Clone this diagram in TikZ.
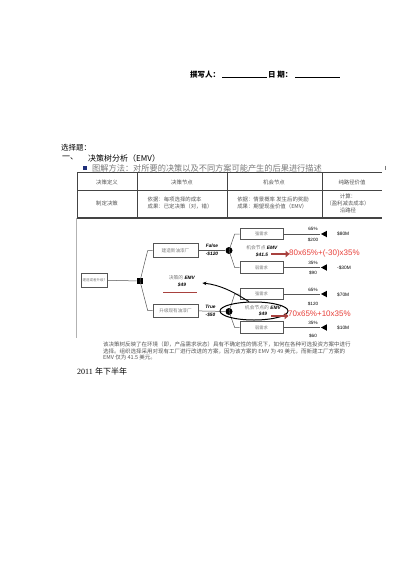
\documentclass[tikz,border=0pt]{standalone}
\usepackage{fontspec}
\setmainfont{Liberation Sans}
\newfontfamily\cjk{Noto Sans CJK SC}
\newfontfamily\tms{Liberation Serif}
\usetikzlibrary{shapes.geometric,arrows.meta,positioning}
\newcommand{\fsz}[2]{\fontsize{#1}{#2}\selectfont}
\definecolor{boxgray}{HTML}{555555}
\definecolor{txtgray}{HTML}{7A7A7A}
\definecolor{rulegray}{HTML}{444444}
\definecolor{formred}{HTML}{E8403A}
\definecolor{arrred}{HTML}{A8413E}
\definecolor{bulletblue}{HTML}{1F2F7A}

\tikzset{
  optbox/.style={draw=boxgray, line width=0.6pt, inner sep=0pt, minimum width=45pt, minimum height=14pt, font=\cjk\fsz{4.6}{5}, text=txtgray},
  statebox/.style={optbox, minimum width=43pt, minimum height=11.5pt, font=\cjk\fsz{4.2}{5}},
  chance/.style={circle, fill=black, inner sep=0pt, minimum size=7pt},
  decide/.style={rectangle, fill=black, inner sep=0pt, minimum size=6.5pt},
  leaf/.style={isosceles triangle, isosceles triangle stretches, shape border rotate=180, fill=black, inner sep=0pt, minimum height=6pt, minimum width=6.5pt},
  branch/.style={draw=boxgray, line width=0.5pt},
  prob/.style={font=\fsz{4.6}{5}, inner sep=0pt},
  payoff/.style={font=\fsz{4.8}{5}, inner sep=0pt, anchor=west},
  choice/.style={font=\bfseries\itshape\fsz{4.8}{7.5}, inner sep=0pt, align=center},
  emvnote/.style={font=\fsz{4.8}{6.5}, inner sep=0pt, align=center},
  formula/.style={font=\fsz{8}{8}, text=formred, inner sep=0pt, anchor=west},
  calcarrow/.style={draw=arrred, line width=2.6pt, -{Triangle[length=4pt,width=6.5pt]}, shorten >=-0.5pt},
  cell/.style={font=\cjk\fsz{5.4}{7}, text=boxgray, inner sep=0pt, align=center},
  heading/.style={font=\cjk\fsz{7.5}{8}, inner sep=0pt, anchor=west}
}

\begin{document}
\begin{tikzpicture}[x=1pt, y=-1pt]
  \fill[white] (0,0) rectangle (400,565);
  \useasboundingbox (0,0) rectangle (400,565);

  % header line
  \node[heading, font=\cjk\bfseries\fsz{7.5}{8}] (author) at (190,75) {撰写人：};
  \coordinate (u1a) at (222,77.5);
  \coordinate (u1b) at (267,77.5);
  \draw[line width=0.5pt] (u1a) -- (u1b);
  \node[heading, font=\cjk\bfseries\fsz{7.5}{8}] (date) at (268,75) {日 期：};
  \coordinate (u2a) at (295,77.5);
  \coordinate (u2b) at (340,77.5);
  \draw[line width=0.5pt] (u2a) -- (u2b);

  % question headings
  \node[heading] (quest) at (61,148) {选择题：};
  \node[heading, font=\cjk\fsz{8}{8}] (num) at (62,158) {一、};
  \node[heading, font=\cjk\fsz{8}{8}] (topic) at (88,158) {决策树分析（EMV）};
  \fill[bulletblue] (83,166) rectangle (87,170);
  \node[heading, font=\cjk\fsz{8.2}{8}, text=txtgray] (method) at (92,168) {图解方法：对所要的决策以及不同方案可能产生的后果进行描述};
  \draw[txtgray, line width=1pt] (385,165.5) -- (385,170);

  % table
  \draw[rulegray, line width=0.8pt] (77,172.5) -- (382,172.5);
  \draw[rulegray, line width=0.5pt] (77,190) -- (382,190);
  \draw[rulegray, line width=1.5pt] (77,218) -- (382,218);
  \foreach \cx in {137,227,322}
    \draw[rulegray, line width=0.8pt] (\cx,172.5) -- (\cx,218);
  \draw[rulegray, line width=0.4pt] (77,172.5) -- (77,218);

  \node[cell] (h1) at (107,182) {决策定义};
  \node[cell] (h2) at (182,182) {决策节点};
  \node[cell] (h3) at (274,182) {机会节点};
  \node[cell] (h4) at (352,182) {纯路径价值};
  \node[cell] (r1) at (107,203) {制定决策};
  \node[cell, align=left] (r2) at (180,203) {依据：每项选择的成本\\成果：已定决策（对，错）};
  \node[cell, align=left] (r3) at (273,203) {依据：情景概率 发生后的奖励\\成果：期望现金价值（EMV）};
  \node[cell] (r4) at (348,203.5) {计算：\\（盈利减去成本）\\沿路径};

  % frame edge
  \draw[black!30, line width=0.6pt] (76,218) -- (76,338);

  % decision tree
  \node[optbox, minimum width=26pt, font=\cjk\fsz{3.5}{4}] (root) at (94,280) {建造或者升级?};
  \node[decide] (dn) at (140,281) {};
  \node[optbox] (b1) at (175.5,250.5) {建造新油漆厂};
  \node[optbox, minimum height=13pt] (b2) at (175.5,310.5) {升级现有油漆厂};
  \node[chance] (c1) at (229,250.5) {};
  \node[chance] (c2) at (229,311.5) {};

  \node[statebox] (s1) at (261.5,234) {强需求};
  \node[statebox] (s2) at (261.5,267.5) {弱需求};
  \node[statebox] (s3) at (261.5,294) {强需求};
  \node[statebox] (s4) at (261.5,327.5) {弱需求};

  \node[leaf] (t1) at (325,234) {};
  \node[leaf] (t2) at (325,267.5) {};
  \node[leaf] (t3) at (325,294) {};
  \node[leaf] (t4) at (325,327.5) {};

  \draw[branch] (root) -- (dn);
  \draw[branch] (dn.center) -- ([xshift=-5pt]b1.west) -- (b1.west);
  \draw[branch] (dn.center) -- ([xshift=-5pt]b2.west) -- (b2.west);
  \draw[branch] (b1) -- (c1);
  \draw[branch] (b2) -- (c2);
  \foreach \c/\s in {c1/s1, c1/s2, c2/s3, c2/s4}
    \draw[branch] (\c.center) -- ([xshift=-5pt]\s.west) -- (\s.west);
  \foreach \s/\t in {s1/t1, s2/t2, s3/t3, s4/t4}
    \draw[branch] (\s) -- (\t);

  % probabilities and payoffs
  \node[prob] (p1) at (313,229) {65\%};
  \node[prob] (v1) at (313,239.5) {\$200};
  \node[prob] (p2) at (313,262.5) {35\%};
  \node[prob] (v2) at (313,272.5) {\$90};
  \node[prob] (p3) at (313,289.5) {65\%};
  \node[prob] (v3) at (313,304) {\$120};
  \node[prob] (p4) at (313,323) {35\%};
  \node[prob] (v4) at (313,335.5) {\$60};
  \node[payoff] (o1) at (337,234) {\$80M};
  \node[payoff] (o2) at (337,267.5) {-\$30M};
  \node[payoff] (o3) at (337,295) {\$70M};
  \node[payoff] (o4) at (337,327.5) {\$10M};

  \node[choice] (lf) at (212,250) {False\\-\$120};
  \node[choice] (lt) at (210.5,311) {True\\-\$50};

  % EMV notes
  \node[emvnote] (e1) at (262,251) {{\cjk\color{txtgray}机会节点} \textbf{\itshape EMV}\\\textbf{\itshape \$41.5}};
  \node[formula] (f1) at (289,253.5) {80x65\%+(-30)x35\%};
  \coordinate (a1) at (271,254);
  \draw[calcarrow] (a1) -- (a1 -| f1.west);

  \node[draw, ellipse, line width=1pt, minimum width=68pt, minimum height=18pt, inner sep=0pt] (hl) at (254,311) {};
  \node[emvnote] (e2) at (263,310.5) {{\cjk\color{txtgray}机会节点的} \textbf{\itshape EMV}\\\textbf{\itshape \$49}};
  \node[formula] (f2) at (288,314) {70x65\%+10x35\%};
  \coordinate (a2) at (271,316);
  \draw[calcarrow] (a2) -- (a2 -| f2.west);

  \node[emvnote] (demv) at (182,281) {{\cjk\color{txtgray}决策的} \textbf{\itshape EMV}\\\textbf{\itshape \$49}};
  \draw[arrred, line width=1pt] ([xshift=-19pt,yshift=-5.5pt]demv.south) -- ([xshift=15pt,yshift=-5.5pt]demv.south);
  \draw[line width=0.9pt, -{Stealth[length=4pt,width=3.5pt]}] (hl.118) .. controls (232,291) and (220,285) .. ([xshift=7pt,yshift=-2pt]demv.east);

  % explanation text
  \node[anchor=north west, inner sep=0pt, align=left, font=\cjk\fsz{5.5}{6.2}, text=boxgray] (expl) at (103,342) {该决策树反映了在环境（即，产品需求状态）具有不确定性的情况下，如何在各种可选投资方案中进行\\选择。组织选择采用对现有工厂进行改进的方案，因为该方案的 EMV 为 49 美元，而新建工厂方案的\\EMV 仅为 41.5 美元。};

  \node[anchor=west, inner sep=0pt, font=\fsz{8}{8}] (year) at (77,371) {{\tms 2011} {\cjk 年下半年}};
\end{tikzpicture}
\end{document}
